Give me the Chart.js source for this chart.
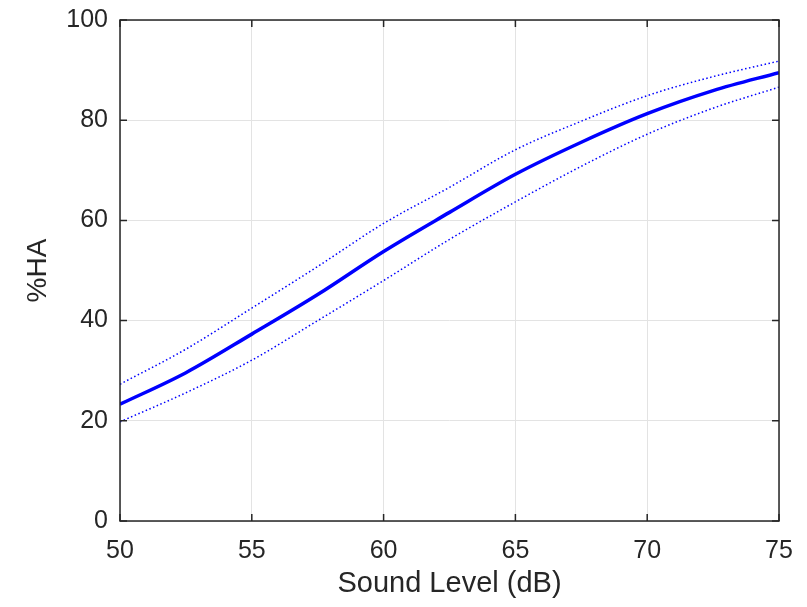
<!DOCTYPE html>
<html>
<head>
<meta charset="utf-8">
<script src="https://cdn.jsdelivr.net/npm/chart.js@4"></script>
<style>
  html, body { margin: 0; padding: 0; background: #ffffff; }
  #wrap { width: 807px; height: 607px; }
</style>
</head>
<body>
<div id="wrap"><canvas id="haChart" width="807" height="607"></canvas></div>
<script>
// values, every 2.5 dB
const soundLevel = [50, 52.5, 55, 57.5, 60, 62.5, 65, 67.5, 70, 72.5, 75];
const haFit = [23.3, 29.6, 37.3, 45.2, 53.8, 61.6, 69.2, 75.6, 81.3, 85.9, 89.5];
const haUpper = [27.3, 34.3, 42.5, 50.8, 59.4, 66.6, 74.1, 79.8, 84.9, 88.7, 91.8];
const haLower = [19.8, 25.6, 32.1, 40.0, 48.0, 56.2, 63.7, 70.8, 77.2, 82.4, 86.6];

const xTicks = [50, 55, 60, 65, 70, 75];
const yTicks = [0, 20, 40, 60, 80, 100];

const axisColor = "#262626";
const fontFamily = "'Liberation Sans', Arial, Helvetica, sans-serif";

function toPoints(ys) {
  return soundLevel.map((x, i) => ({ x: x, y: ys[i] }));
}

// box round the axes and the inward tick marks, like a matlab plot
const boxPlugin = {
  id: "boxPlugin",
  afterDraw(chart) {
    const ctx = chart.ctx;
    const area = chart.chartArea;
    const xs = chart.scales.x;
    const ys = chart.scales.y;
    const tickLen = 7;
    ctx.save();
    ctx.strokeStyle = axisColor;
    ctx.lineWidth = 1.5;
    ctx.strokeRect(area.left, area.top, area.right - area.left, area.bottom - area.top);
    ctx.beginPath();
    xTicks.forEach((v) => {
      const px = xs.getPixelForValue(v);
      ctx.moveTo(px, area.bottom);
      ctx.lineTo(px, area.bottom - tickLen);
      ctx.moveTo(px, area.top);
      ctx.lineTo(px, area.top + tickLen);
    });
    yTicks.forEach((v) => {
      const py = ys.getPixelForValue(v);
      ctx.moveTo(area.left, py);
      ctx.lineTo(area.left + tickLen, py);
      ctx.moveTo(area.right, py);
      ctx.lineTo(area.right - tickLen, py);
    });
    ctx.stroke();
    ctx.restore();
  },
};

const ctx = document.getElementById("haChart").getContext("2d");
new Chart(ctx, {
  type: "line",
  data: {
    datasets: [
      {
        label: "%HA",
        data: toPoints(haFit),
        borderColor: "rgb(0,0,255)",
        borderWidth: 3.5,
        pointRadius: 0,
        cubicInterpolationMode: "monotone",
        fill: false,
      },
      {
        label: "upper",
        data: toPoints(haUpper),
        borderColor: "rgb(0,0,255)",
        borderWidth: 1.5,
        borderDash: [1.5, 2.5],
        pointRadius: 0,
        cubicInterpolationMode: "monotone",
        fill: false,
      },
      {
        label: "lower",
        data: toPoints(haLower),
        borderColor: "rgb(0,0,255)",
        borderWidth: 1.5,
        borderDash: [1.5, 2.5],
        pointRadius: 0,
        cubicInterpolationMode: "monotone",
        fill: false,
      },
    ],
  },
  options: {
    responsive: false,
    animation: false,
    events: [],
    layout: {
      padding: { top: 20, right: 28, left: 0, bottom: 0 },
    },
    plugins: {
      legend: { display: false },
      tooltip: { enabled: false },
    },
    scales: {
      x: {
        type: "linear",
        min: 50,
        max: 75,
        afterBuildTicks: (scale) => {
          scale.ticks = xTicks.map((v) => ({ value: v }));
        },
        afterFit: (scale) => {
          scale.height = 86;
          scale.paddingLeft = 0;
          scale.paddingRight = 0;
        },
        grid: {
          color: "#e3e3e3",
          lineWidth: 1,
          drawTicks: false,
        },
        border: { display: false },
        ticks: {
          color: axisColor,
          font: { family: fontFamily, size: 25 },
          padding: 15,
        },
        title: {
          display: true,
          text: "Sound Level (dB)",
          color: axisColor,
          font: { family: fontFamily, size: 29 },
          padding: { top: 0, bottom: 6 },
        },
      },
      y: {
        type: "linear",
        min: 0,
        max: 100,
        afterBuildTicks: (scale) => {
          scale.ticks = yTicks.map((v) => ({ value: v }));
        },
        afterFit: (scale) => {
          scale.width = 120;
          scale.paddingTop = 0;
          scale.paddingBottom = 0;
        },
        grid: {
          color: "#e3e3e3",
          lineWidth: 1,
          drawTicks: false,
        },
        border: { display: false },
        ticks: {
          color: axisColor,
          font: { family: fontFamily, size: 25 },
          padding: 12,
        },
        title: {
          display: true,
          text: "%HA",
          color: axisColor,
          font: { family: fontFamily, size: 28 },
          padding: { top: 21, bottom: 0 },
        },
      },
    },
  },
  plugins: [boxPlugin],
});
</script>
</body>
</html>
